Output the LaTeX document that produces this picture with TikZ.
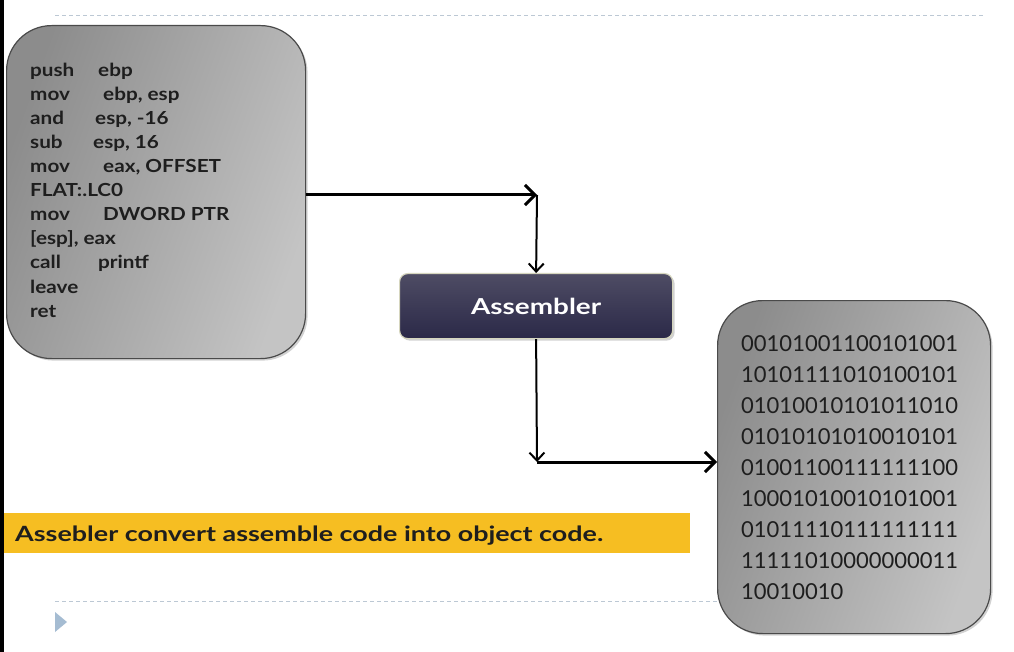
\documentclass[tikz,border=0pt]{standalone}
\usepackage{fontspec}
\usepackage{graphicx}
\setmainfont{Lato}
\usetikzlibrary{arrows.meta,shadows}
\definecolor{dashc}{HTML}{BCC8D4}
\definecolor{tric}{HTML}{A5BCD2}
\definecolor{boxdark}{HTML}{8C8C8C}
\definecolor{boxlight}{HTML}{C4C4C4}
\definecolor{boxedge}{HTML}{4A4A4A}
\definecolor{asmtop}{HTML}{4E4C64}
\definecolor{asmbot}{HTML}{2B2948}
\definecolor{asmedge}{HTML}{D6D6BE}
\definecolor{bannerc}{HTML}{F6BE22}
\definecolor{textc}{HTML}{1E1E1E}
\newcommand{\wide}[1]{\scalebox{1.15}[1]{#1}}
\tikzset{
  x=1pt, y=-1pt,
  graybox/.style={draw=boxedge, line width=1.2pt, rounded corners=45pt,
    top color=boxdark, bottom color=boxlight, shading angle=70,
    drop shadow={opacity=0.35, shadow xshift=2pt, shadow yshift=-2pt}},
  asmbox/.style={draw=asmedge, line width=1.2pt, rounded corners=8pt,
    top color=asmtop, bottom color=asmbot,
    drop shadow={opacity=0.35, shadow xshift=2pt, shadow yshift=-2pt},
    text=white, font=\fontsize{22}{24}\selectfont\bfseries},
  codetext/.style={inner sep=0pt, anchor=base west, text=textc,
    font=\fontsize{18}{22}\selectfont\bfseries},
  bintext/.style={inner sep=0pt, anchor=base west, text=textc,
    font=\fontsize{22}{24}\selectfont},
  guide/.style={draw=dashc, dash pattern=on 4pt off 3pt, line width=1pt},
  thickarrow/.style={draw=black, line width=3pt, -{Straight Barb[length=10pt,width=20pt]}},
  thinarrow/.style={draw=black, line width=2pt, -{Straight Barb[length=8pt,width=15pt]}},
}
\begin{document}
\begin{tikzpicture}
\useasboundingbox (0,0) rectangle (1014,652);
\fill[white] (0,0) rectangle (1014,652);
\fill[black] (0,0) rectangle (4,652);
% guide lines
\draw[guide] (55,16) -- (985,16);
\draw[guide] (55,601) -- (985,601);
\fill[tric] (55,612) -- (55,632) -- (67,622) -- cycle;
% boxes
\node[graybox, minimum width=299pt, minimum height=333pt, anchor=north west] (src) at (6,25) {};
\node[graybox, minimum width=273pt, minimum height=333pt, anchor=north west] (obj) at (717,300) {};
\node[asmbox, minimum width=273pt, minimum height=65pt, anchor=north west] (asm) at (399,273) {\resizebox{130pt}{\height}{Assembler}};
% code
\foreach \i/\a/\b/\o in {1/push/ebp/68, 2/mov/{ebp, esp}/73, 3/and/{esp, -16}/65,
  4/sub/{esp, 16}/63, 5/mov/{eax, OFFSET}/73, 6/{FLAT:.LC0}/{}/0, 7/mov/{DWORD PTR}/73,
  8/{[esp], eax}/{}/0, 9/call/printf/68, 10/leave/{}/0, 11/ret/{}/0}
  \node[codetext] (code\i) at (30,{77+24*(\i-1)}) {\ifnum\o>0 \makebox[\o pt][l]{\wide{\a}}\wide{\b}\else\wide{\a}\fi};
% binary
\foreach \i/\t in {1/00101001100101001, 2/10101111010100101, 3/01010010101011010,
  4/01010101010010101, 5/01001100111111100, 6/10001010010101001,
  7/01011110111111111, 8/11111010000000011, 9/10010010}
  \node[bintext] (bin\i) at (741,{351+31*(\i-1)}) {\t};
% connectors
\coordinate (c1) at (537,195);
\coordinate (c2) at (537,462);
\draw[thickarrow] (src.east |- c1) -- (c1);
\draw[thinarrow] (c1) -- (asm.north);
\draw[thinarrow] (asm.south) -- (c2);
\draw[thickarrow] (c2) -- (c2 -| obj.west);
% banner
\fill[bannerc] (4,513) rectangle (690,553);
\node[inner sep=0pt, anchor=base west, text=textc, font=\fontsize{21}{24}\selectfont\bfseries] (note) at (15,541) {\resizebox{588pt}{\height}{Assebler convert assemble code into object code.}};
\end{tikzpicture}
\end{document}
